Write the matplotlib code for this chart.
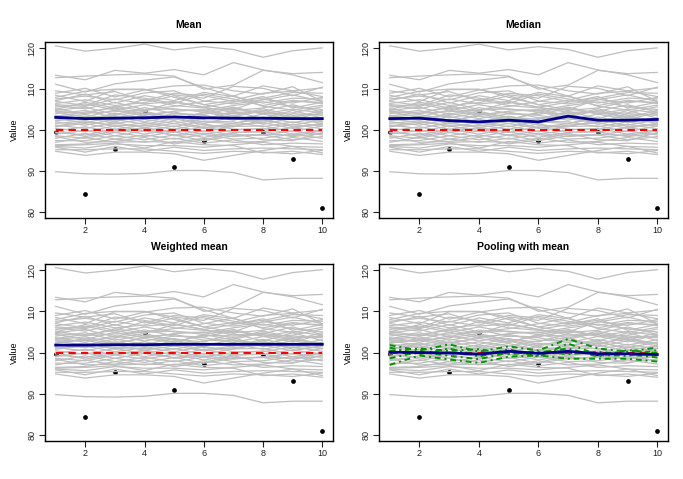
import numpy as np
import matplotlib.pyplot as plt

plt.rcParams['font.family'] = ['Liberation Sans', 'DejaVu Sans']

# time points
t = [1, 2, 3, 4, 5, 6, 7, 8, 9, 10]

# observed series (black dots), value at t=7 missing
observed = [99.6, 84.3, 95.3, 104.7, 90.9, 97.2, np.nan, 99.5, 93.0, 81.0]

# simulated / imputed series (grey lines)
gray_lines = [
    [120.6, 119.3, 120.0, 121.0, 119.6, 120.4, 119.7, 117.8, 119.4, 120.1],
    [113.4, 112.3, 114.6, 113.9, 114.8, 113.5, 116.5, 114.7, 113.5, 111.6],
    [112.8, 113.2, 113.5, 113.7, 113.2, 110.0, 111.0, 114.6, 113.8, 114.1],
    [111.2, 109.3, 111.3, 112.2, 113.0, 110.4, 108.3, 110.8, 109.6, 110.3],
    [109.0, 110.2, 108.1, 109.8, 110.8, 111.0, 109.6, 108.8, 110.6, 107.0],
    [108.5, 107.0, 109.9, 109.9, 108.6, 107.8, 110.7, 110.2, 108.4, 110.5],
    [108.0, 109.5, 110.0, 110.0, 108.0, 106.2, 107.3, 109.0, 109.5, 108.2],
    [107.6, 108.3, 107.4, 109.1, 109.6, 107.1, 106.4, 107.4, 108.6, 107.0],
    [107.0, 106.0, 108.6, 107.8, 106.5, 108.8, 107.6, 106.0, 107.3, 106.5],
    [106.5, 107.4, 106.0, 106.7, 108.4, 106.2, 105.0, 107.5, 106.6, 108.0],
    [106.0, 105.2, 106.8, 105.0, 105.8, 107.0, 108.4, 105.8, 104.9, 106.1],
    [105.6, 106.4, 104.9, 106.2, 105.0, 104.8, 106.0, 106.9, 105.8, 105.0],
    [105.2, 104.0, 105.8, 104.7, 106.8, 105.6, 104.3, 104.6, 106.2, 104.4],
    [104.8, 105.6, 103.8, 105.5, 104.0, 103.8, 105.3, 103.9, 104.2, 105.7],
    [104.4, 103.2, 104.9, 103.6, 104.6, 105.0, 103.5, 105.2, 103.6, 103.9],
    [104.0, 104.8, 103.0, 104.2, 103.2, 102.6, 104.6, 102.8, 104.8, 102.9],
    [103.6, 102.5, 104.1, 102.8, 104.0, 103.6, 102.4, 103.9, 102.6, 104.3],
    [103.2, 103.8, 102.4, 103.4, 102.4, 104.4, 103.0, 102.2, 103.4, 102.2],
    [102.8, 101.8, 103.3, 102.0, 103.4, 102.0, 101.6, 103.2, 101.8, 103.1],
    [102.4, 103.0, 101.6, 102.6, 101.6, 102.8, 103.6, 101.4, 102.9, 101.6],
    [102.0, 101.2, 102.6, 101.4, 102.8, 101.2, 100.8, 102.4, 101.2, 102.5],
    [101.6, 102.3, 100.8, 101.8, 100.8, 102.2, 102.0, 100.8, 102.0, 100.9],
    [101.2, 100.4, 101.8, 100.6, 101.6, 100.4, 101.2, 101.8, 100.4, 101.7],
    [100.8, 101.6, 100.2, 101.2, 100.2, 101.5, 100.2, 100.2, 101.4, 100.3],
    [100.4, 99.6, 101.0, 99.8, 101.0, 99.6, 100.9, 101.0, 99.6, 101.0],
    [99.8, 100.8, 99.4, 100.6, 99.4, 100.8, 99.4, 99.6, 100.6, 99.6],
    [99.4, 98.8, 100.2, 99.0, 100.2, 99.0, 100.0, 100.4, 99.0, 100.0],
    [99.0, 99.9, 98.6, 99.8, 98.8, 99.8, 98.8, 98.8, 99.8, 98.8],
    [98.6, 98.0, 99.4, 98.4, 99.6, 98.2, 99.4, 99.6, 98.4, 99.2],
    [98.0, 99.2, 97.8, 98.8, 97.8, 98.9, 97.8, 98.0, 99.0, 98.0],
    [97.4, 97.4, 98.6, 97.6, 98.8, 97.4, 98.6, 98.8, 97.6, 98.4],
    [97.0, 98.2, 97.0, 97.2, 97.0, 98.0, 97.0, 97.2, 98.2, 97.2],
    [96.4, 96.6, 97.8, 97.0, 98.0, 96.8, 97.6, 96.4, 96.8, 96.6],
    [96.0, 95.6, 96.6, 96.2, 96.2, 95.8, 96.4, 97.0, 96.0, 95.8],
    [95.8, 94.6, 96.0, 94.8, 95.8, 95.0, 95.4, 95.6, 95.4, 95.2],
    [95.2, 95.2, 95.4, 95.4, 94.8, 94.3, 94.8, 94.6, 94.2, 95.0],
    [94.8, 93.8, 94.6, 94.6, 94.2, 92.6, 93.8, 95.0, 96.0, 94.4],
    [96.2, 96.4, 96.8, 95.6, 97.2, 96.4, 96.2, 94.4, 94.8, 94.0],
    [89.8, 89.3, 89.2, 89.4, 90.1, 90.1, 89.6, 87.8, 88.2, 88.2],
    [105.0, 106.8, 105.4, 107.5, 106.0, 105.4, 104.8, 105.4, 107.0, 106.8],
    [103.4, 104.4, 105.4, 104.0, 102.6, 104.2, 104.0, 104.4, 103.0, 104.8],
    [102.2, 103.4, 102.0, 103.8, 104.4, 103.0, 102.8, 101.8, 104.0, 103.6],
    [101.0, 102.0, 101.2, 101.0, 102.2, 100.6, 101.6, 102.8, 100.8, 101.4],
    [107.2, 108.8, 106.6, 108.4, 107.2, 109.2, 108.2, 106.6, 107.8, 107.6],
    [106.2, 105.8, 107.6, 106.4, 107.0, 105.6, 106.8, 108.2, 105.4, 106.8],
    [109.6, 108.6, 109.4, 107.2, 109.0, 108.4, 107.0, 107.8, 109.2, 109.0],
    [98.4, 97.0, 97.2, 98.2, 96.6, 97.6, 99.2, 97.6, 97.4, 99.4],
    [100.0, 98.4, 99.8, 100.4, 98.6, 99.2, 98.4, 99.0, 98.6, 99.8],
    [104.6, 104.1, 104.5, 104.9, 105.2, 104.4, 105.6, 104.0, 105.1, 104.2],
    [103.0, 102.9, 103.6, 104.6, 103.0, 101.6, 103.2, 104.8, 103.2, 102.0],
]

true_value = 100

# estimates per method
mean_est = [103.1, 102.8, 102.9, 103.0, 103.2, 103.0, 102.9, 102.9, 102.8, 102.8]
median_est = [102.8, 102.9, 102.3, 102.0, 102.4, 102.0, 103.4, 102.4, 102.4, 102.6]
wmean_est = [101.8, 101.8, 101.9, 101.9, 102.0, 102.0, 102.0, 102.0, 102.0, 102.0]
pool_est = [100.1, 100.0, 99.9, 99.6, 100.3, 99.8, 100.3, 99.7, 99.7, 99.5]

# pooled imputation series (green)
pool_lines = [
    [101.8, 100.5, 102.0, 100.2, 101.5, 100.5, 103.3, 101.0, 100.2, 101.2],
    [97.0, 99.3, 98.3, 97.5, 99.0, 99.3, 98.5, 98.5, 98.5, 97.8],
    [101.2, 99.6, 101.0, 99.0, 100.8, 99.0, 102.2, 99.4, 99.2, 100.6],
    [98.6, 100.2, 99.2, 98.4, 100.0, 100.2, 99.6, 100.2, 99.6, 98.8],
    [100.4, 101.0, 100.4, 100.8, 99.6, 100.0, 101.0, 99.0, 100.6, 99.9],
]

titles = ['Mean', 'Median', 'Weighted mean', 'Pooling with mean']
estimates = [mean_est, median_est, wmean_est, pool_est]

fig = plt.figure(figsize=(6.83, 4.79), dpi=100)
boxes = [
    [0.0659, 0.545, 0.4216, 0.367],
    [0.5550, 0.545, 0.4231, 0.367],
    [0.0659, 0.079, 0.4216, 0.370],
    [0.5550, 0.079, 0.4231, 0.370],
]

for k in range(4):
    ax = fig.add_axes(boxes[k])
    ax.plot(t, observed, 'o', color='black', markersize=2.4, zorder=1)
    for g in gray_lines:
        ax.plot(t, g, color='#BEBEBE', lw=0.9, zorder=2)
    ax.plot([t[0], t[-1]], [true_value, true_value], color='red',
            ls=(0, (3.5, 2.5)), lw=1.5, zorder=3)
    if k == 3:
        for p in pool_lines:
            ax.plot(t, p, color='#009400', ls=(0, (3, 2, 1, 2)), lw=1.4, zorder=4)
    ax.plot(t, estimates[k], color='#00008B', lw=2.0, zorder=5)

    ax.set_xlim(0.64, 10.36)
    ax.set_ylim(78.5, 121.5)
    ax.set_xticks([2, 4, 6, 8, 10])
    ax.set_yticks([80, 90, 100, 110, 120])
    ax.tick_params(direction='out', length=4, width=0.8, labelsize=6.5, pad=2,
                   colors='#222222')
    for lab in ax.get_yticklabels():
        lab.set_rotation(90)
        lab.set_va('center')
    for s in ax.spines.values():
        s.set_linewidth(1.0)
    ax.set_ylabel('Value', fontsize=6.5, labelpad=6)
    ax.set_title(titles[k], fontsize=7.5, fontweight='bold', pad=10)

plt.savefig('out.png', dpi=100)
